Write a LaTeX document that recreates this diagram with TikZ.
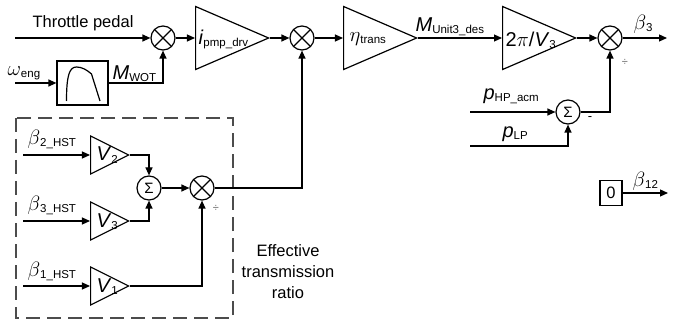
\documentclass[tikz,border=0pt]{standalone}
\usepackage{fontspec}
\setmainfont{Liberation Sans}
\usepackage{tikz}
\usetikzlibrary{positioning}
\usetikzlibrary{arrows.meta}
\usetikzlibrary{shapes.geometric}

\newcommand{\symfont}{\fontsize{20}{22}\selectfont}
\newcommand{\subfont}{\fontsize{11.5}{12}\selectfont}
\newcommand{\lowsub}[1]{\raisebox{-2pt}{\subfont #1}}

\begin{document}
\begin{tikzpicture}[x=1pt,y=-1pt,line width=1.2pt,
    sig/.style={-{Triangle[length=8pt,width=7pt]}},
    mult/.style={circle,draw,minimum size=24pt,inner sep=0pt,
        path picture={\draw (path picture bounding box.center) ++(-8.5pt,-8.5pt) -- ++(17pt,17pt)
                            (path picture bounding box.center) ++(-8.5pt,8.5pt) -- ++(17pt,-17pt);}},
    summ/.style={circle,draw,minimum size=24pt,inner sep=0pt,font=\fontsize{15}{15}\selectfont},
    gainbig/.style={isosceles triangle,isosceles triangle stretches,draw,inner sep=0pt,
        minimum width=63pt,minimum height=73pt,anchor=lower side},
    gainsmall/.style={isosceles triangle,isosceles triangle stretches,draw,inner sep=0pt,
        minimum width=38pt,minimum height=38pt,anchor=lower side},
    txt/.style={font=\fontsize{16.5}{21}\selectfont,align=center},
    lab/.style={anchor=base west,inner sep=0pt,font=\symfont},
    signlab/.style={inner sep=0pt,text=black!60,font=\fontsize{11}{11}\selectfont},
    hstframe/.style={draw=black!70,dash pattern=on 14pt off 7pt}]

    \useasboundingbox (0,0) rectangle (677,323);

    % top row
    \coordinate (thr) at (15,38);
    \coordinate (weng) at (15,83);
    \node[txt] (thrlab) at (83,23) {Throttle pedal};

    \node[mult] (mul1) at (163,38) {};
    \node[draw,minimum width=51pt,minimum height=44pt,inner sep=0pt] (wot) at (82.5,83) {};
    \draw (66.5,101) .. controls (66.5,75) and (69.5,67) .. (76.5,67)
        .. controls (82,67) and (87,70) .. (91.5,74) -- (100,101);

    \node[gainbig] (amp1) at (195,38) {};
    \node[mult] (mul2) at (302,38) {};
    \node[gainbig] (amp2) at (343,38) {};
    \node[gainbig] (amp3) at (502,38) {};
    \node[mult] (mul3) at (610,38) {};
    \coordinate (b3out) at (667,38);

    \draw[sig] (thr) -- (mul1);
    \draw[sig] (weng) -- (wot);
    \draw[sig] (wot) -| (mul1);
    \draw[sig] (mul1) -- (amp1);
    \draw[sig] (amp1.apex) -- (mul2);
    \draw[sig] (mul2) -- (amp2);
    \draw[sig] (amp2.apex) -- (amp3);
    \draw[sig] (amp3.apex) -- (mul3);
    \draw[sig] (mul3) -- (b3out);

    \node[lab] (wenglab) at (7,76) {$\omega$\lowsub{eng}};
    \node[lab] (wotlab) at (112,80) {\textit{M}\lowsub{WOT}};
    \node[lab] (amp1lab) at (198,45) {\textit{i}\lowsub{pmp\_drv}};
    \node[lab] (amp2lab) at (349,42) {$\eta$\lowsub{trans}};
    \node[lab] (mdeslab) at (415,32) {\textit{M}\lowsub{Unit3\_des}};
    \node[lab] (amp3lab) at (505,47) {2$\pi$/\textit{V}\lowsub{3}};
    \node[lab] (b3lab) at (633,30) {$\beta$\lowsub{3}};
    \node[signlab] (div3) at (625,62) {÷};

    % pressure difference
    \node[summ] (sum2) at (568,112) {Σ};
    \coordinate (php) at (470,112);
    \coordinate (plp) at (470,146);
    \draw[sig] (php) -- (sum2);
    \draw[sig] (plp) -| (sum2);
    \draw[sig] (sum2) -| (mul3);
    \node[lab] (phplab) at (483,100) {\textit{p}\lowsub{HP\_acm}};
    \node[lab] (plplab) at (502,138) {\textit{p}\lowsub{LP}};
    \node[signlab,text=black,font=\fontsize{13}{13}\selectfont] (minus) at (590,119) {-};

    % beta 12
    \node[draw,txt,minimum width=22pt,minimum height=25pt,inner sep=0pt] (zero) at (611,193) {0};
    \coordinate (b12out) at (668,193);
    \draw[sig] (zero) -- (b12out);
    \node[lab] (b12lab) at (632,186) {$\beta$\lowsub{12}};

    % effective transmission ratio
    \draw[hstframe] (16,118) rectangle (233,318);
    \coordinate (b2in) at (23,155);
    \coordinate (b3in) at (23,221);
    \coordinate (b1in) at (23,286);
    \node[gainsmall] (v2) at (90,155) {};
    \node[gainsmall] (v3) at (90,221) {};
    \node[gainsmall] (v1) at (90,286) {};
    \node[summ] (sum1) at (149,188) {Σ};
    \node[mult] (mul4) at (202,188) {};

    \draw[sig] (b2in) -- (v2);
    \draw[sig] (b3in) -- (v3);
    \draw[sig] (b1in) -- (v1);
    \draw[sig] (v2.apex) -| (sum1);
    \draw[sig] (v3.apex) -| (sum1);
    \draw[sig] (sum1) -- (mul4);
    \draw[sig] (v1.apex) -| (mul4);
    \draw[sig] (mul4) -| (mul2);

    \node[lab] (b2lab) at (27,145) {$\beta$\lowsub{2\_HST}};
    \node[lab] (b3lab2) at (27,211) {$\beta$\lowsub{3\_HST}};
    \node[lab] (b1lab) at (27,276) {$\beta$\lowsub{1\_HST}};
    \node[lab] (v2lab) at (96,161) {\textit{V}\lowsub{2}};
    \node[lab] (v3lab) at (96,227) {\textit{V}\lowsub{3}};
    \node[lab] (v1lab) at (96,292) {\textit{V}\lowsub{1}};
    \node[signlab] (div4) at (216,208) {÷};

    \node[txt] (efflab) at (288,272) {Effective\\transmission\\ratio};
\end{tikzpicture}
\end{document}
